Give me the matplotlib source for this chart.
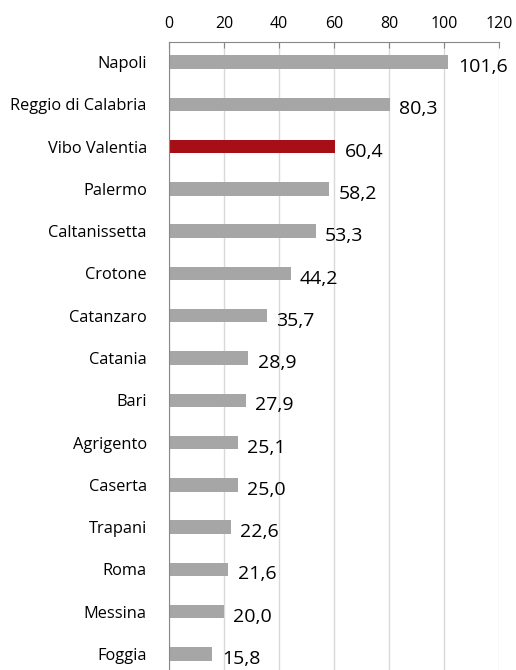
import numpy as np
import matplotlib
matplotlib.use('Agg')
import matplotlib.pyplot as plt

plt.rcParams['font.family'] = ['Open Sans', 'DejaVu Sans']

cities = ['Napoli', 'Reggio di Calabria', 'Vibo Valentia', 'Palermo', 'Caltanissetta',
          'Crotone', 'Catanzaro', 'Catania', 'Bari', 'Agrigento', 'Caserta',
          'Trapani', 'Roma', 'Messina', 'Foggia']
values = [101.6, 80.3, 60.4, 58.2, 53.3, 44.2, 35.7, 28.9, 27.9, 25.1, 25.0,
          22.6, 21.6, 20.0, 15.8]
highlight = 'Vibo Valentia'

fig = plt.figure(figsize=(5.16, 6.70), dpi=100)
ax = fig.add_axes([0.3275, 0.0, 0.6395, 0.937])

y = np.arange(len(cities))
colors = ['#A50F15' if c == highlight else '#A6A6A6' for c in cities]
ax.barh(y, values, height=0.32, color=colors, zorder=2)

# value labels sit a little right of and below the bar end
for yi, v in zip(y, values):
    ax.text(v + 3.4, yi + 0.12, f'{v:.1f}'.replace('.', ','), va='center', ha='left',
            fontsize=14, color='black')

ax.set_xlim(0, 120)
ax.set_ylim(len(cities) - 1 + 0.38, -0.47)
ax.set_xticks(range(0, 121, 20))
ax.xaxis.tick_top()
ax.tick_params(axis='x', direction='in', length=4, color='#888888', labelsize=11.5, pad=7)
ax.set_yticks(y)
ax.set_yticklabels(cities, fontsize=11.8)
ax.tick_params(axis='y', length=0, pad=16)
ax.grid(axis='x', color='#D9D9D9', linewidth=1, zorder=0)

for s in ['right', 'bottom']:
    ax.spines[s].set_visible(False)
ax.spines['top'].set_color('#888888')
ax.spines['left'].set_color('#888888')

fig.savefig('out.png', dpi=100)
